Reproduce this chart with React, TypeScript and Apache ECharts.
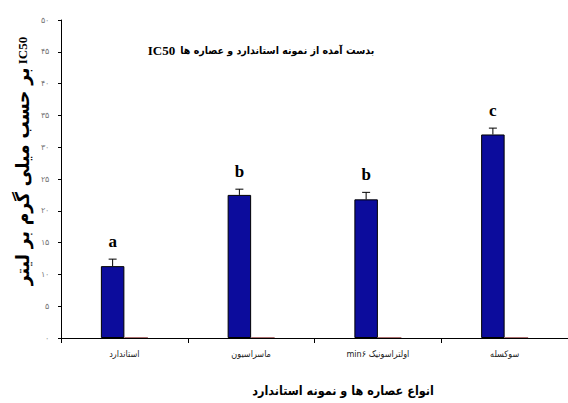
import React, { useEffect, useRef } from "react";
import * as echarts from "echarts";

const categories = ["استاندارد", "ماسراسیون", "\u2066min۶ اولتراسونیک\u2069", "سوکسله"];
const ic50Values = [11.3, 22.5, 21.8, 32.0];
const errorValues = [1.1, 0.9, 1.1, 1.0];
const secondValues = [0.15, 0.15, 0.15, 0.15];
const groupLetters = ["a", "b", "b", "c"];
const yTicks = [0, 5, 10, 15, 20, 25, 30, 35, 40, 45, 50];

const toPersian = (n: number) =>
  String(n).replace(/[0-9]/g, (d) => "۰۱۲۳۴۵۶۷۸۹"[Number(d)]);

const BAR_W = 23.5;
const AR_FONT = "DejaVu Sans Condensed, DejaVu Sans";

export default function App() {
  const ref = useRef<HTMLDivElement>(null);
  useEffect(() => {
    if (!ref.current) return;
    const chart = echarts.init(ref.current, null, { renderer: "svg" });
    chart.setOption({
      animation: false,
      backgroundColor: "#ffffff",
      title: [
        {
          text: "{a|IC50} {b|بدست آمده از نمونه استاندارد و عصاره ها}",
          left: 256,
          top: 36,
          textAlign: "center",
          textStyle: {
            rich: {
              a: {
                fontFamily: "Liberation Serif",
                fontWeight: "bold",
                fontSize: 13,
                color: "#000",
              },
              b: {
                fontFamily: AR_FONT,
                fontWeight: "bold",
                fontSize: 10.5,
                color: "#000",
              },
            },
          },
        },
        {
          text: "انواع عصاره ها و نمونه استاندارد",
          left: 338,
          top: 379,
          textAlign: "center",
          textStyle: {
            fontFamily: AR_FONT,
            fontWeight: "bold",
            fontSize: 12.5,
            color: "#000",
          },
        },
      ],
      graphic: [
        {
          type: "text",
          x: 22,
          y: 161,
          rotation: Math.PI / 2,
          style: {
            text: "{b|بر حسب میلی گرم بر لیتر} {a|IC50}",
            align: "center",
            verticalAlign: "middle",
            rich: {
              a: {
                fontFamily: "Liberation Serif",
                fontWeight: "bold",
                fontSize: 13,
                fill: "#000",
              },
              b: {
                fontFamily: AR_FONT,
                fontWeight: "bold",
                fontSize: 19,
                fill: "#000",
              },
            },
          },
        },
      ],
      grid: { left: 61, top: 20, width: 511, bottom: 65 },
      xAxis: {
        type: "category",
        data: categories,
        axisLine: { lineStyle: { color: "#000", width: 1 } },
        axisTick: { show: true, length: 5, lineStyle: { color: "#000" } },
        axisLabel: {
          fontSize: 9,
          color: "#222",
          fontFamily: AR_FONT,
          margin: 11,
        },
      },
      yAxis: {
        type: "value",
        min: 0,
        max: 50,
        interval: 5,
        splitLine: { show: false },
        axisLine: { show: true, lineStyle: { color: "#000", width: 1 } },
        axisTick: { show: true, length: 3, lineStyle: { color: "#000" } },
        axisLabel: {
          fontSize: 8,
          color: "#777",
          margin: 12,
          formatter: (v: number) => (yTicks.includes(v) ? toPersian(v) : ""),
        },
      },
      series: [
        {
          type: "bar",
          data: ic50Values,
          barWidth: BAR_W,
          barGap: "0%",
          itemStyle: { color: "#0c0c9c", borderColor: "#000", borderWidth: 1 },
        },
        {
          type: "bar",
          data: secondValues,
          barWidth: BAR_W,
          itemStyle: { color: "#a86a6a" },
        },
        {
          type: "custom",
          data: ic50Values.map((v, i) => [i, v, errorValues[i]]),
          z: 10,
          renderItem: (params: any, api: any) => {
            const idx = api.value(0);
            const val = api.value(1);
            const err = api.value(2);
            const base = api.coord([idx, val]);
            const top = api.coord([idx, val + err]);
            const x = base[0] - BAR_W / 2;
            return {
              type: "group",
              children: [
                {
                  type: "line",
                  shape: { x1: x, y1: base[1], x2: x, y2: top[1] },
                  style: { stroke: "#000", lineWidth: 1 },
                },
                {
                  type: "line",
                  shape: { x1: x - 4, y1: top[1], x2: x + 4, y2: top[1] },
                  style: { stroke: "#000", lineWidth: 1 },
                },
                {
                  type: "text",
                  x: x,
                  y: top[1] - 18,
                  style: {
                    text: groupLetters[params.dataIndex],
                    font: "bold 17px 'Liberation Serif'",
                    fill: "#000",
                    align: "center",
                    verticalAlign: "middle",
                  },
                },
              ],
            };
          },
        },
      ],
    });
    return () => chart.dispose();
  }, []);
  return (
    <div
      ref={ref}
      style={{ position: "absolute", left: 0, top: 0, width: 568, height: 403 }}
    />
  );
}
